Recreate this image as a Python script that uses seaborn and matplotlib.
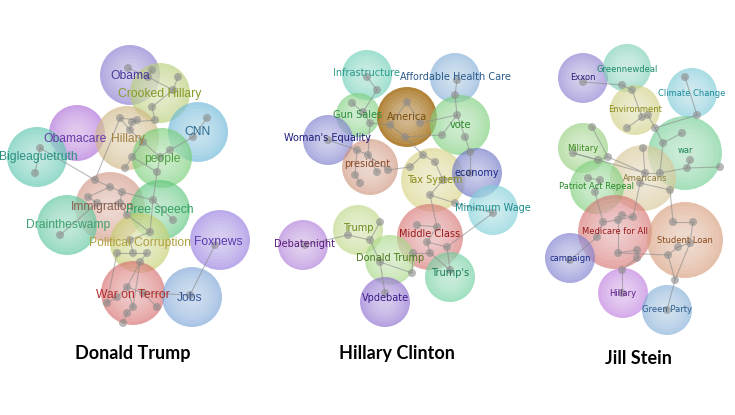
import numpy as np
import pandas as pd
import matplotlib
matplotlib.use("Agg")
import matplotlib.pyplot as plt
import matplotlib.colors as mcolors
import seaborn as sns

# ---------------- data ----------------
# Donald Trump panel
trump_labels = ["Obama", "Crooked Hillary", "CNN", "Obamacare", "Hillary", "people",
                "Bigleaguetruth", "Immigration", "Free speech", "Draintheswamp",
                "Political Corruption", "Foxnews", "War on Terror", "Jobs"]
trump_x = [130, 160, 198, 77, 127, 162, 37, 110, 160, 67, 140, 220, 133, 192]
trump_y = [75, 93, 132, 133, 138, 158, 157, 207, 210, 225, 243, 240, 293, 297]
trump_r = [30, 30, 30, 28, 32, 30, 30, 35, 30, 30, 30, 30, 32, 30]
trump_tx = [130, 160, 198, 75, 128, 162, 38, 103, 160, 68, 140, 218, 133, 190]
trump_ty = [76, 94, 132, 139, 139, 159, 157, 207, 210, 225, 243, 242, 295, 298]
trump_fill = ["#8b7fd0", "#b8cf78", "#6fb8d8", "#b070d8", "#d0b888", "#78cf78",
              "#5fc8b0", "#d49a88", "#60c880", "#60c8a0", "#c8d070", "#9a80e0",
              "#d87070", "#80a8d8"]
trump_text = ["#4a3a98", "#8a9a2a", "#2a6a90", "#6a3aa8", "#a08040", "#50a040",
              "#2a9080", "#8a6050", "#30a060", "#40a070", "#b0a040", "#5a3ab0",
              "#b03030", "#3a5a9a"]
trump_node_x = [128, 152, 148, 178, 173, 152, 155, 137, 120, 132, 207, 193, 170, 130, 132, 143,
                157, 125, 160, 40, 35, 95, 110, 122, 88, 97, 120, 127, 153, 173, 150, 130,
                133, 147, 117, 140, 127, 117, 143, 157, 133, 127, 123, 107, 215, 190, 60]
trump_node_y = [68, 70, 77, 77, 90, 107, 120, 120, 118, 122, 118, 137, 150, 130, 157, 142,
                172, 168, 157, 148, 173, 180, 187, 192, 197, 203, 203, 215, 200, 220, 232, 240,
                253, 253, 253, 262, 287, 297, 293, 307, 307, 313, 323, 303, 245, 295, 235]
trump_paths = [[0, 2, 1], [2, 4, 3], [4, 5, 6, 9, 7, 8], [9, 13, 15, 18, 12, 11, 10], [13, 8],
               [15, 14, 17], [14, 16], [18, 16], [8, 21], [19, 20], [19, 21],
               [21, 22, 23, 26, 27], [22, 24, 25, 26], [23, 28, 29], [28, 30, 31], [27, 30],
               [31, 32, 33, 35], [32, 34], [35, 36], [34, 43, 37, 36, 38, 39], [36, 40, 41, 42],
               [38, 45, 44], [46, 25], [16, 28], [35, 40]]

# Hillary Clinton panel
hillary_labels = ["Infrastructure", "Affordable Health Care", "Gun Sales", "America", "vote",
                  "Woman's Equality", "president", "Tax System", "economy", "Minimum Wage",
                  "Middle Class", "Trump", "Debatenight", "Donald Trump", "Trump's", "Vpdebate"]
hillary_x = [367, 455, 358, 407, 460, 328, 370, 433, 477, 493, 430, 358, 303, 390, 450, 385]
hillary_y = [75, 78, 115, 117, 125, 140, 167, 180, 173, 210, 237, 230, 245, 260, 277, 302]
hillary_r = [25, 25, 22, 30, 30, 25, 28, 32, 25, 25, 33, 25, 25, 25, 25, 25]
hillary_tx = [367, 455, 358, 407, 460, 328, 367, 435, 477, 493, 430, 358, 305, 390, 450, 385]
hillary_ty = [73, 77, 115, 117, 125, 138, 164, 180, 173, 208, 234, 228, 244, 258, 273, 298]
hillary_fill = ["#70d0b8", "#88b0d8", "#80d080", "#a87420", "#80d080", "#8080d0", "#d09880",
                "#d8d488", "#7078c8", "#80d0d8", "#d87878", "#c0d888", "#b080d8", "#a8d888",
                "#70d0a0", "#9070d0"]
hillary_text = ["#2a9a8a", "#2a5a8a", "#2a8a3a", "#7a5010", "#2a8a2a", "#1a1a7a", "#8a4a2a",
                "#8a8a1a", "#1a2a8a", "#1a8a8a", "#9a1a1a", "#6a8a1a", "#5a1a7a", "#4a7a1a",
                "#1a7a5a", "#3a1a8a"]
hillary_node_x = [367, 377, 457, 455, 352, 363, 370, 407, 390, 420, 405, 457, 442, 465, 470,
                  328, 357, 368, 355, 360, 377, 388, 423, 435, 410, 443, 430, 470, 455, 493,
                  437, 417, 427, 447, 413, 430, 348, 370, 380, 305, 380, 412, 450, 385]
hillary_node_y = [77, 90, 80, 95, 103, 112, 123, 102, 125, 123, 137, 115, 135, 137, 152,
                  140, 150, 155, 175, 183, 172, 170, 155, 162, 167, 180, 195, 173, 203, 213,
                  227, 225, 242, 247, 253, 253, 235, 240, 222, 245, 262, 273, 270, 293]
hillary_paths = [[0, 1, 5, 4], [5, 6, 8, 7, 9, 11, 3, 2], [8, 10], [11, 12, 10], [11, 13, 14, 27],
                 [15, 16, 17, 21, 24, 22, 23, 25, 26, 30], [16, 18, 19], [17, 20], [22, 10],
                 [6, 17], [25, 27], [26, 28, 29], [30, 31], [30, 32, 35, 34], [32, 33, 42],
                 [33, 29], [39, 36, 37, 38], [37, 40, 41, 34], [40, 43], [35, 42]]

# Jill Stein panel
stein_labels = ["Exxon", "Greennewdeal", "Climate Change", "Environment", "Military", "war",
                "Americans", "Patriot Act Repeal", "Medicare for All", "Student Loan",
                "campaign", "Hillary", "Green Party"]
stein_x = [583, 627, 692, 635, 583, 685, 643, 597, 615, 685, 570, 623, 667]
stein_y = [78, 68, 93, 110, 148, 153, 178, 187, 232, 240, 258, 293, 310]
stein_r = [25, 24, 25, 25, 25, 37, 33, 27, 37, 38, 25, 25, 25]
stein_tx = [583, 627, 692, 635, 583, 685, 645, 597, 615, 685, 570, 623, 667]
stein_ty = [78, 69, 93, 109, 148, 150, 178, 186, 231, 240, 258, 293, 309]
stein_fill = ["#8f80d0", "#80d0b8", "#80ccd8", "#d0d088", "#98d080", "#78d098", "#d8c898",
              "#80d080", "#d87878", "#d8a080", "#8080d0", "#c080e0", "#88b0d8"]
stein_text = ["#2a1a7a", "#1a8a6a", "#1a8a9a", "#8a8a1a", "#3a8a1a", "#1a8a5a", "#8a7a3a",
              "#2a8a2a", "#9a1a1a", "#8a4a1a", "#1a2a8a", "#5a1a8a", "#2a5a8a"]
stein_node_x = [583, 622, 632, 685, 697, 642, 648, 627, 655, 592, 573, 598, 608, 682, 663,
                690, 687, 720, 645, 640, 660, 670, 643, 588, 600, 595, 603, 618, 633, 622,
                597, 618, 637, 637, 622, 693, 690, 678, 668, 673, 570, 622, 675, 667]
stein_node_y = [82, 85, 90, 77, 115, 117, 115, 128, 128, 127, 153, 160, 157, 133, 143,
                160, 168, 167, 173, 183, 173, 190, 148, 178, 180, 192, 222, 220, 217, 215,
                237, 253, 250, 258, 270, 222, 243, 247, 255, 222, 260, 293, 280, 310]
stein_paths = [[0, 1, 2, 5, 6, 8, 4, 3], [5, 7], [8, 14, 13], [9, 12, 11, 10], [12, 18],
               [10, 18, 20, 14], [15, 16, 17], [20, 16], [18, 19, 21, 39, 35, 36, 37, 38],
               [18, 22], [23, 24, 25, 26, 27, 28, 29], [19, 28], [26, 30, 40],
               [27, 31, 32, 33, 34, 41], [38, 42, 43], [31, 38], [36, 42]]

titles = ["Donald Trump", "Hillary Clinton", "Jill Stein"]
title_x = [133, 397, 638]
title_y = [353, 353, 358]

# ---------------- drawing ----------------
sns.set_theme(style="white")
plt.rcParams["font.family"] = ["DejaVu Sans"]

W, H, DPI = 735, 415, 100
fig = plt.figure(figsize=(W / DPI, H / DPI), dpi=DPI)
ax = fig.add_axes([0, 0, 1, 1])
ax.set_xlim(0, W)
ax.set_ylim(H, 0)
ax.axis("off")

PT = 72.0 / DPI  # points per pixel


def area(r):
    return (2 * r * PT) ** 2


def bubble(x, y, r, color, base_alpha):
    rgb = mcolors.to_rgb(color)
    layers = [(1.0, rgb + (base_alpha,))]
    for f in [0.9, 0.78, 0.66, 0.54, 0.42, 0.3]:
        layers.append((f, (1, 1, 1, 0.085)))
    for f, c in layers:
        sns.scatterplot(x=[x], y=[y], s=area(r * f), color=c, edgecolor="none",
                        linewidth=0, ax=ax, legend=False, zorder=1)


def network(nx, ny, paths):
    rows = []
    eid = 0
    for p in paths:
        for a, b in zip(p[:-1], p[1:]):
            rows.append((eid, nx[a], ny[a]))
            rows.append((eid, nx[b], ny[b]))
            eid += 1
    df = pd.DataFrame(rows, columns=["e", "x", "y"])
    sns.lineplot(data=df, x="x", y="y", units="e", estimator=None, sort=False,
                 color="#8a8a8a", lw=0.8, alpha=0.6, ax=ax, legend=False, zorder=2)
    sns.scatterplot(x=nx, y=ny, s=area(4.0), color="#8a8a8a", alpha=0.6,
                    edgecolor="none", linewidth=0, ax=ax, legend=False, zorder=3)


panels = [
    (trump_labels, trump_x, trump_y, trump_r, trump_tx, trump_ty, trump_fill, trump_text,
     trump_node_x, trump_node_y, trump_paths, ["Liberation Sans"], 8.7),
    (hillary_labels, hillary_x, hillary_y, hillary_r, hillary_tx, hillary_ty, hillary_fill,
     hillary_text, hillary_node_x, hillary_node_y, hillary_paths, ["DejaVu Sans"], 7.0),
    (stein_labels, stein_x, stein_y, stein_r, stein_tx, stein_ty, stein_fill, stein_text,
     stein_node_x, stein_node_y, stein_paths, ["DejaVu Sans"], 6.0),
]

for (labs, xs, ys, rs, txs, tys, fills, tcols, nx, ny, paths, fam, fs) in panels:
    for lab, x, y, r, fc in zip(labs, xs, ys, rs, fills):
        bubble(x, y, r, fc, 0.88 if lab == "America" else 0.66)
    network(nx, ny, paths)
    for lab, tx, ty, tc in zip(labs, txs, tys, tcols):
        ax.text(tx, ty, lab, ha="center", va="center", color=tc, fontsize=fs,
                family=fam, zorder=5)

for t, x, y in zip(titles, title_x, title_y):
    ax.text(x, y, t, ha="center", va="center", fontsize=13, fontweight="bold",
            family=["Lato", "DejaVu Sans"], color="black", zorder=5)

fig.savefig("out.png", dpi=DPI, facecolor="white")
